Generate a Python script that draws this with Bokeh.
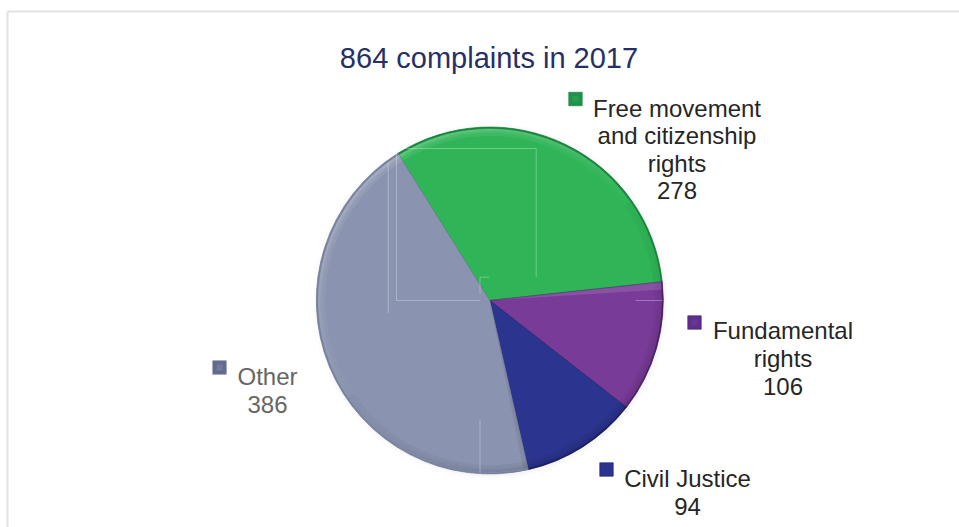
import math
import numpy as np
from bokeh.plotting import figure
from bokeh.models import Range1d
from bokeh.core.properties import value
from bokeh.embed import file_html
from bokeh.resources import INLINE

W, H = 959, 527
title = "864 complaints in 2017"
categories = ["Free movement and citizenship rights", "Fundamental rights", "Civil Justice", "Other"]
values = [278, 106, 94, 386]
label_lines = [["Free movement", "and citizenship", "rights"], ["Fundamental", "rights"], ["Civil Justice"], ["Other"]]
colors = ["#2fb457", "#793b98", "#2b3590", "#8a93af"]
dark = ["#1a7a3c", "#41205e", "#171d5c", "#6d7693"]
rim_alpha = [0.85, 0.85, 0.85, 0.55]
key_colors = ["#22924a", "#5f2f90", "#2b3590", "#626a8e"]
text_colors = ["#262626", "#262626", "#262626", "#666666"]
title_color = "#262f66"

cx, cy, R = 489.3, H - 300, 173.5
start = math.radians(122)

p = figure(width=W, height=H, x_range=Range1d(0, W), y_range=Range1d(0, H), output_backend="svg",
           toolbar_location=None, min_border=0)
p.axis.visible = False
p.grid.visible = False
p.outline_line_color = None
p.background_fill_color = "#ffffff"
p.border_fill_color = "#ffffff"

def Y(py):
    return H - py

# frame
p.segment([7, 7], [Y(527), Y(11)], [7, W], [Y(11), Y(11)], line_color="#e2e2e2", line_width=2)

# soft halo
for dr, a in [(5, 0.015), (3, 0.02), (1.5, 0.04)]:
    p.circle([cx + 1], [cy - 1], radius=R + dr, fill_color="#808080", fill_alpha=a, line_color=None)

total = sum(values)
edges = start - np.cumsum([0] + values) / total * 2 * math.pi

for i in range(len(values)):
    a1, a0 = edges[i], edges[i + 1]
    p.wedge([cx], [cy], radius=R, start_angle=a0, end_angle=a1, fill_color=colors[i],
            line_color=dark[i], line_width=1.0, line_alpha=0.6)
    # bevelled rim: lit from the upper left, shaded to the lower right
    n = max(4, int((a1 - a0) / math.radians(4)))
    steps = np.linspace(a0, a1, n + 1)
    for a, b in zip(steps[:-1], steps[1:]):
        mid = (a + b) / 2
        light = math.cos(mid - math.radians(125))
        for r0, r1, k in [(R - 9, R - 6, 0.06), (R - 6, R - 4, 0.13), (R - 4, R - 2, 0.22)]:
            col = "#ffffff" if light > 0 else "#000000"
            al = k * abs(light) * (1.0 if light > 0 else 0.5) + 0.02
            p.annular_wedge([cx], [cy], inner_radius=r0, outer_radius=r1, start_angle=a, end_angle=b,
                            fill_color=col, fill_alpha=al, line_color=None)
    p.annular_wedge([cx], [cy], inner_radius=R - 1.6, outer_radius=R, start_angle=a0, end_angle=a1,
                    fill_color=dark[i], fill_alpha=rim_alpha[i], line_color=None)

# light band along the purple slice's upper edge, shade on the grey slice's right edge
p.wedge([cx], [cy], radius=R - 1, start_angle=edges[1] - math.radians(2.5), end_angle=edges[1],
        fill_color="#ffffff", fill_alpha=0.12, line_color=None)
p.wedge([cx], [cy], radius=R - 1, start_angle=edges[3] - math.radians(1.6), end_angle=edges[3],
        fill_color="#000000", fill_alpha=0.06, line_color=None)

# thin pale lines of the scan
sx0 = [398, 535.7, 479.5, 479.5, 396, 396, 387.7, 635, 479.5]
sy0 = [148, 148, 276.7, 276.7, 152, 300, 162, 300, 420]
sx1 = [535.7, 535.7, 488.7, 479.5, 396, 479.5, 387.7, 662, 479.5]
sy1 = [148, 276.7, 276.7, 293, 300, 300, 312.7, 300, 473]
p.segment(sx0, [Y(v) for v in sy0], sx1, [Y(v) for v in sy1], line_color="#ffffff", line_alpha=0.3, line_width=1)

# labels
key_x = [575, 694, 606, 219]
key_y = [98.5, 322, 469, 367]
text_x = [676.5, 782.5, 687, 267]
first_base = [107.7, 330, 478, 376]
line_h = [27.5, 27.8, 28, 28]

for i in range(len(values)):
    p.rect([key_x[i]], [Y(key_y[i])], width=13.5, height=13.5, fill_color=key_colors[i],
           line_color=dark[i], line_width=0.6)
    p.rect([key_x[i]], [Y(key_y[i])], width=6, height=6, fill_color=colors[i], line_color=None, fill_alpha=0.4)
    lines = label_lines[i] + [str(values[i])]
    p.text([text_x[i]] * len(lines), [Y(first_base[i] + j * line_h[i]) for j in range(len(lines))], text=lines,
           text_font=value("Liberation Sans"), text_font_size="24px", text_color=text_colors[i],
           text_align="center", text_baseline="alphabetic")

p.text([488.5], [Y(57.7)], text=[title], text_font=value("Liberation Sans"), text_font_size="29px",
       text_color=title_color, text_align="center", text_baseline="alphabetic")

open("out.html", "w").write(file_html(p, INLINE))
